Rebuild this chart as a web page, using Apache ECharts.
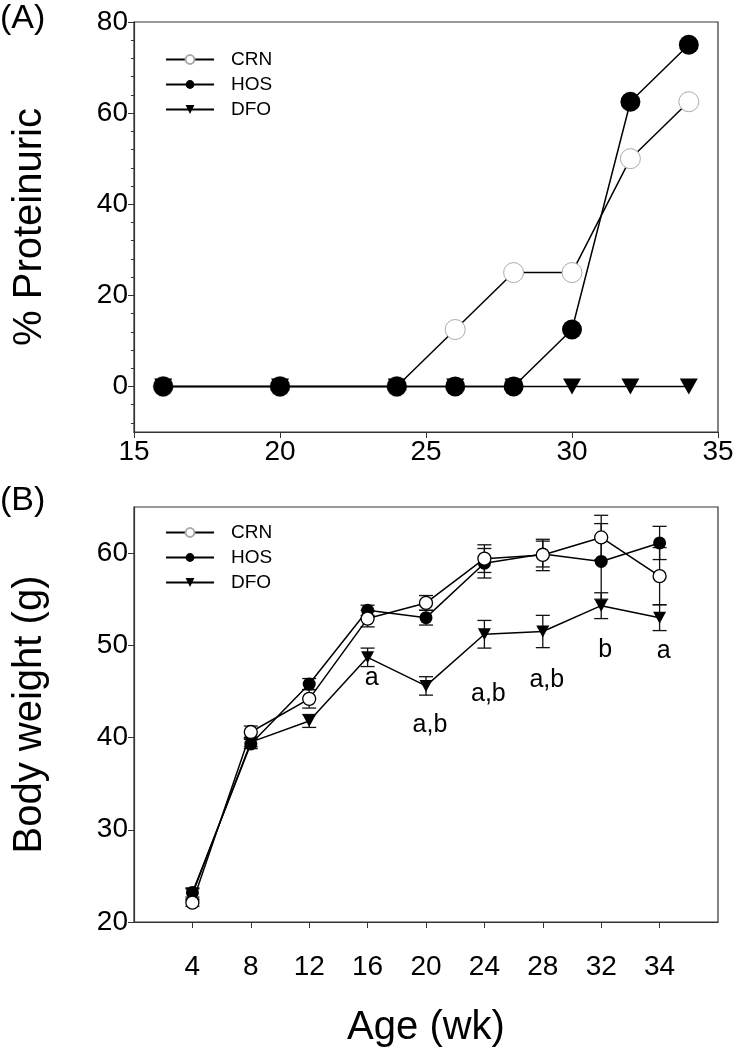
<!DOCTYPE html>
<html>
<head>
<meta charset="utf-8">
<script src="https://cdn.jsdelivr.net/npm/echarts@6/dist/echarts.min.js"></script>
<style>
html,body{margin:0;padding:0;background:#fff;}
#chart{width:743px;height:1057px;}
</style>
</head>
<body>
<div id="chart"></div>
<script>
// ---------- Panel A data: % proteinuric ----------
const weeksA = [16, 20, 24, 26, 28, 30, 32, 34];
const crnA = [0, 0, 0, 12.5, 25, 25, 50, 62.5];
const hosA = [0, 0, 0, 0, 0, 12.5, 62.5, 75];
const dfoA = [0, 0, 0, 0, 0, 0, 0, 0];
const yTicksA = [0, 20, 40, 60, 80];
const yMinorTicksA = [-8, -4, 4, 8, 12, 16, 24, 28, 32, 36, 44, 48, 52, 56, 64, 68, 72, 76];

// ---------- Panel B data: body weight ----------
const weeksB = ['4', '8', '12', '16', '20', '24', '28', '32', '34'];
const crnB = [22.1, 40.6, 44.2, 52.9, 54.6, 59.4, 59.8, 61.7, 57.5];
const crnBse = [0.4, 0.65, 1.0, 0.9, 0.8, 1.5, 1.7, 2.4, 3.1];
const hosB = [23.2, 39.3, 45.8, 53.8, 53.0, 58.9, 59.9, 59.1, 61.1];
const hosBse = [0.5, 0.5, 0.6, 0.55, 0.8, 1.6, 1.4, 4.1, 1.8];
const dfoB = [23.0, 39.5, 41.8, 48.7, 45.6, 51.2, 51.5, 54.3, 53.0];
const dfoBse = [0.6, 0.5, 0.7, 1.0, 1.0, 1.5, 1.75, 1.4, 1.4];
const yTicksB = [20, 30, 40, 50, 60];
const annotText = ['', '', '', 'a', 'a,b', 'a,b', 'a,b', 'b', 'a'];
const annotY = [null, null, null, 46.5, 41.4, 44.7, 46.2, 49.5, 49.4];

const FONT = 'Liberation Sans, Arial, sans-serif';
const AX = '#333';

const chart = echarts.init(document.getElementById('chart'), null, {renderer: 'canvas'});

function pairs(xs, ys) { return xs.map((x, i) => [x, ys[i]]); }
function idxPairs(ys) { return ys.map((y, i) => [i, y]); }
function errData(ys, se) { return ys.map((y, i) => [i, y - se[i], y + se[i]]); }

function errRender(params, api) {
  const x = api.value(0);
  const lo = api.coord([x, api.value(1)]);
  const hi = api.coord([x, api.value(2)]);
  const w = 7;
  const st = {stroke: '#111', lineWidth: 1.3};
  return {
    type: 'group',
    children: [
      {type: 'line', shape: {x1: lo[0], y1: lo[1], x2: hi[0], y2: hi[1]}, style: st},
      {type: 'line', shape: {x1: lo[0] - w, y1: lo[1], x2: lo[0] + w, y2: lo[1]}, style: st},
      {type: 'line', shape: {x1: hi[0] - w, y1: hi[1], x2: hi[0] + w, y2: hi[1]}, style: st}
    ]
  };
}

const gridA = {left: 134, right: 25, top: 22, height: 410, show: true, borderColor: AX, borderWidth: 1.2};
const gridB = {left: 134, right: 25, top: 507, height: 415, show: true, borderColor: AX, borderWidth: 1.2};

const TICK_FS = 28;
const TITLE_FS = 40;
const axisLabelStyle = {color: '#000', fontFamily: FONT, fontSize: TICK_FS};

const option = {
  backgroundColor: '#fff',
  animation: false,
  textStyle: {fontFamily: FONT},
  grid: [gridA, gridB],
  graphic: [
    {type: 'text', left: 0, top: 2, style: {text: '(A)', font: '34px ' + FONT, fill: '#000'}},
    {type: 'text', left: 0, top: 484, style: {text: '(B)', font: '34px ' + FONT, fill: '#000'}}
  ],
  legend: [
    {
      orient: 'vertical', left: 160, top: 45, itemWidth: 48, itemHeight: 11, itemGap: 6,
      data: ['CRN', 'HOS', 'DFO'],
      textStyle: {fontFamily: FONT, fontSize: 19, color: '#000', padding: [0, 0, 0, 12]},
      selectedMode: false
    },
    {
      orient: 'vertical', left: 160, top: 518, itemWidth: 48, itemHeight: 11, itemGap: 6,
      data: ['CRN', 'HOS', 'DFO'],
      textStyle: {fontFamily: FONT, fontSize: 19, color: '#000', padding: [0, 0, 0, 12]},
      selectedMode: false
    }
  ],
  xAxis: [
    {
      type: 'value', gridIndex: 0, min: 15, max: 35, interval: 5,
      axisLine: {show: true, onZero: false, lineStyle: {color: AX, width: 1.2}},
      axisTick: {show: true, inside: false, length: 6, lineStyle: {color: AX}},
      axisLabel: Object.assign({margin: 6}, axisLabelStyle),
      splitLine: {show: false}
    },
    {
      type: 'value', gridIndex: 1, min: -1, max: 9,
      name: 'Age (wk)', nameLocation: 'middle', nameGap: 86,
      nameTextStyle: {fontFamily: FONT, fontSize: TITLE_FS, color: '#000'},
      axisLine: {show: true, onZero: false, lineStyle: {color: AX, width: 1.2}},
      axisTick: {show: true, inside: false, length: 6, customValues: [0, 1, 2, 3, 4, 5, 6, 7, 8], lineStyle: {color: AX}},
      axisLabel: Object.assign({margin: 31, customValues: [0, 1, 2, 3, 4, 5, 6, 7, 8],
        formatter: v => weeksB[Math.round(v)] || ''}, axisLabelStyle),
      splitLine: {show: false}
    }
  ],
  yAxis: [
    {
      type: 'value', gridIndex: 0, min: -10, max: 80, position: 'left',
      name: '% Proteinuric', nameLocation: 'middle', nameGap: 84,
      nameTextStyle: {fontFamily: FONT, fontSize: TITLE_FS, color: '#000'},
      axisLine: {show: true, onZero: false, lineStyle: {color: AX, width: 1.2}},
      axisTick: {show: true, inside: false, length: 6, customValues: yTicksA, lineStyle: {color: AX}},
      axisLabel: Object.assign({margin: 6, customValues: yTicksA}, axisLabelStyle),
      splitLine: {show: false}
    },
    {
      type: 'value', gridIndex: 0, min: -10, max: 80, position: 'left',
      axisLine: {show: false, onZero: false},
      axisTick: {show: true, inside: false, length: 3, customValues: yMinorTicksA, lineStyle: {color: AX}},
      axisLabel: {show: false},
      splitLine: {show: false}
    },
    {
      type: 'value', gridIndex: 1, min: 20, max: 65, position: 'left',
      name: 'Body weight (g)', nameLocation: 'middle', nameGap: 84,
      nameTextStyle: {fontFamily: FONT, fontSize: TITLE_FS, color: '#000'},
      axisLine: {show: true, onZero: false, lineStyle: {color: AX, width: 1.2}},
      axisTick: {show: true, inside: false, length: 6, customValues: yTicksB, lineStyle: {color: AX}},
      axisLabel: Object.assign({margin: 6, customValues: yTicksB}, axisLabelStyle),
      splitLine: {show: false}
    }
  ],
  series: [
    // ----- Panel A -----
    {
      name: 'CRN', type: 'line', xAxisIndex: 0, yAxisIndex: 0, z: 2,
      data: pairs(weeksA, crnA),
      symbol: 'circle', symbolSize: 20,
      lineStyle: {color: '#000', width: 1.5},
      itemStyle: {color: '#fff', borderColor: '#aaa', borderWidth: 1}
    },
    {
      name: 'DFO', type: 'line', xAxisIndex: 0, yAxisIndex: 0, z: 3,
      data: pairs(weeksA, dfoA),
      symbol: 'triangle', symbolRotate: 180, symbolSize: [18, 16],
      lineStyle: {color: '#000', width: 1.5},
      itemStyle: {color: '#000', borderColor: '#000', borderWidth: 0}
    },
    {
      name: 'HOS', type: 'line', xAxisIndex: 0, yAxisIndex: 0, z: 4,
      data: pairs(weeksA, hosA),
      symbol: 'circle', symbolSize: 20,
      lineStyle: {color: '#000', width: 1.5},
      itemStyle: {color: '#000', borderColor: '#000', borderWidth: 0}
    },
    // ----- Panel B error bars -----
    {type: 'custom', xAxisIndex: 1, yAxisIndex: 2, z: 1, renderItem: errRender, data: errData(dfoB, dfoBse), silent: true},
    {type: 'custom', xAxisIndex: 1, yAxisIndex: 2, z: 1, renderItem: errRender, data: errData(hosB, hosBse), silent: true},
    {type: 'custom', xAxisIndex: 1, yAxisIndex: 2, z: 1, renderItem: errRender, data: errData(crnB, crnBse), silent: true},
    // ----- Panel B lines -----
    {
      name: 'DFO', type: 'line', xAxisIndex: 1, yAxisIndex: 2, z: 3,
      data: idxPairs(dfoB),
      symbol: 'triangle', symbolRotate: 180, symbolSize: [13, 12],
      lineStyle: {color: '#000', width: 1.5},
      itemStyle: {color: '#000', borderColor: '#000', borderWidth: 0}
    },
    {
      name: 'HOS', type: 'line', xAxisIndex: 1, yAxisIndex: 2, z: 4,
      data: idxPairs(hosB),
      symbol: 'circle', symbolSize: 13,
      lineStyle: {color: '#000', width: 1.5},
      itemStyle: {color: '#000', borderColor: '#000', borderWidth: 0}
    },
    {
      name: 'CRN', type: 'line', xAxisIndex: 1, yAxisIndex: 2, z: 5,
      data: idxPairs(crnB),
      symbol: 'circle', symbolSize: 13,
      lineStyle: {color: '#000', width: 1.5},
      itemStyle: {color: '#fff', borderColor: '#000', borderWidth: 1.3}
    },
    // ----- Panel B significance letters -----
    {
      type: 'scatter', xAxisIndex: 1, yAxisIndex: 2, z: 6, silent: true,
      symbolSize: 0,
      itemStyle: {opacity: 1},
      data: annotText.map((t, i) => ({value: [i, annotY[i]], name: t})).filter(d => d.name),
      label: {show: true, position: 'inside', offset: [4, 0], formatter: p => p.name,
        fontFamily: FONT, fontSize: 25, color: '#000', opacity: 1}
    }
  ]
};
chart.setOption(option);
</script>
</body>
</html>
